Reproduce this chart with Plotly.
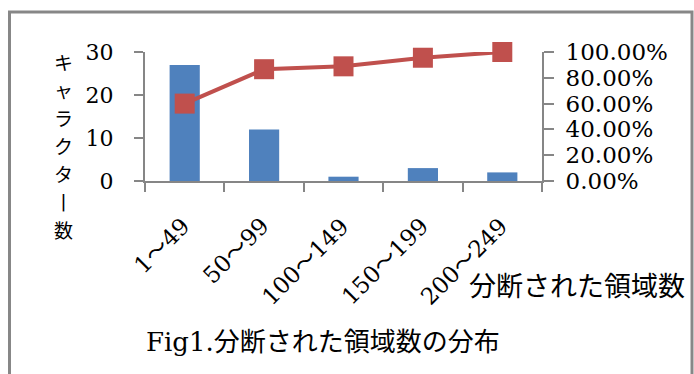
import plotly.graph_objects as go

# Distribution of the number of split regions per character
categories = ["1～49", "50～99", "100～149", "150～199", "200～249"]
counts = [27, 12, 1, 3, 2]
cumulative_share = [0.60, 0.8667, 0.8889, 0.9556, 1.0]
y_title_chars = ["キ", "ャ", "ラ", "ク", "タ", "丨", "数"]

W, H = 694, 374
L, R, T, B = 145, 694 - 542, 52, 374 - 181
PW, PH = W - L - R, H - T - B


def px_x(px):
    return (px - L) / PW


def px_y(py):
    return (H - B - py) / PH


serif = "DejaVu Serif, Noto Sans CJK JP"
cjk = "Noto Sans CJK JP"
axis_grey = "#868686"

fig = go.Figure()
fig.add_trace(go.Bar(
    x=categories, y=counts, marker=dict(color="#4F81BD", line=dict(width=0)),
    yaxis="y", showlegend=False,
))
fig.add_trace(go.Scatter(
    x=categories, y=cumulative_share, mode="lines+markers", yaxis="y2",
    line=dict(color="#C0504D", width=4),
    marker=dict(symbol="square", size=20, color="#C0504D"),
    cliponaxis=False, showlegend=False,
))

fig.update_layout(
    width=W, height=H, autosize=False,
    margin=dict(l=L, r=R, t=T, b=B),
    paper_bgcolor="white", plot_bgcolor="white",
    bargap=0.62,
    font=dict(family=serif, size=22, color="black"),
    xaxis=dict(
        type="category", range=[-0.5, len(categories) - 0.5],
        tickson="boundaries", ticks="outside", ticklen=9,
        tickwidth=2, tickcolor=axis_grey, showline=True, linecolor=axis_grey,
        linewidth=2, showgrid=False, showticklabels=False,
    ),
    yaxis=dict(
        range=[0, 30], tickvals=[0, 10, 20, 30], ticks="outside", ticklen=9,
        tickwidth=2, tickcolor=axis_grey, showline=True, linecolor=axis_grey,
        linewidth=2, showgrid=False, zeroline=False, ticklabelstandoff=16,
        tickfont=dict(family=serif, size=22, color="black"),
    ),
    yaxis2=dict(
        range=[0, 1], tickvals=[0, 0.2, 0.4, 0.6, 0.8, 1.0], tickformat=".2%",
        overlaying="y", side="right", ticks="outside", ticklen=10,
        tickwidth=2, tickcolor=axis_grey, showline=True, linecolor=axis_grey,
        linewidth=2, showgrid=False, zeroline=False, ticklabelstandoff=7,
        tickfont=dict(family=serif, size=23, color="black"),
    ),
)

# slanted category labels under each bar (full-width wave dash from the CJK font)
for cat in categories:
    label = cat.replace("～", f'<span style="font-family:{cjk}">～</span>')
    fig.add_annotation(
        xref="x", yref="paper", x=cat, y=px_y(207), xshift=13,
        text=label, textangle=-45, showarrow=False,
        xanchor="right", yanchor="top", borderpad=0,
        font=dict(family=serif, size=23, color="black"),
    )

# outer frame
fig.add_shape(
    type="rect", xref="paper", yref="paper",
    x0=px_x(9.5), x1=px_x(692), y0=px_y(380), y1=px_y(12),
    line=dict(color="#878787", width=3), fillcolor="rgba(0,0,0,0)", layer="below",
)

# vertical y-axis title, one character per row
for i, ch in enumerate(y_title_chars):
    fig.add_annotation(
        xref="paper", yref="paper", x=px_x(63), y=px_y(61 + 28 * i),
        text=ch, showarrow=False, xanchor="center", yanchor="middle",
        font=dict(family=cjk, size=19, color="black"),
    )

# x-axis title
fig.add_annotation(
    xref="paper", yref="paper", x=px_x(577), y=px_y(284),
    text="分断された領域数", showarrow=False, xanchor="center", yanchor="middle",
    font=dict(family=cjk, size=27, color="black"),
)

# caption
fig.add_annotation(
    xref="paper", yref="paper", x=px_x(144), y=px_y(342),
    text="Fig1.分断された領域数の分布", showarrow=False,
    xanchor="left", yanchor="middle",
    font=dict(family=serif, size=26, color="black"),
)

fig.write_html("out.html")
